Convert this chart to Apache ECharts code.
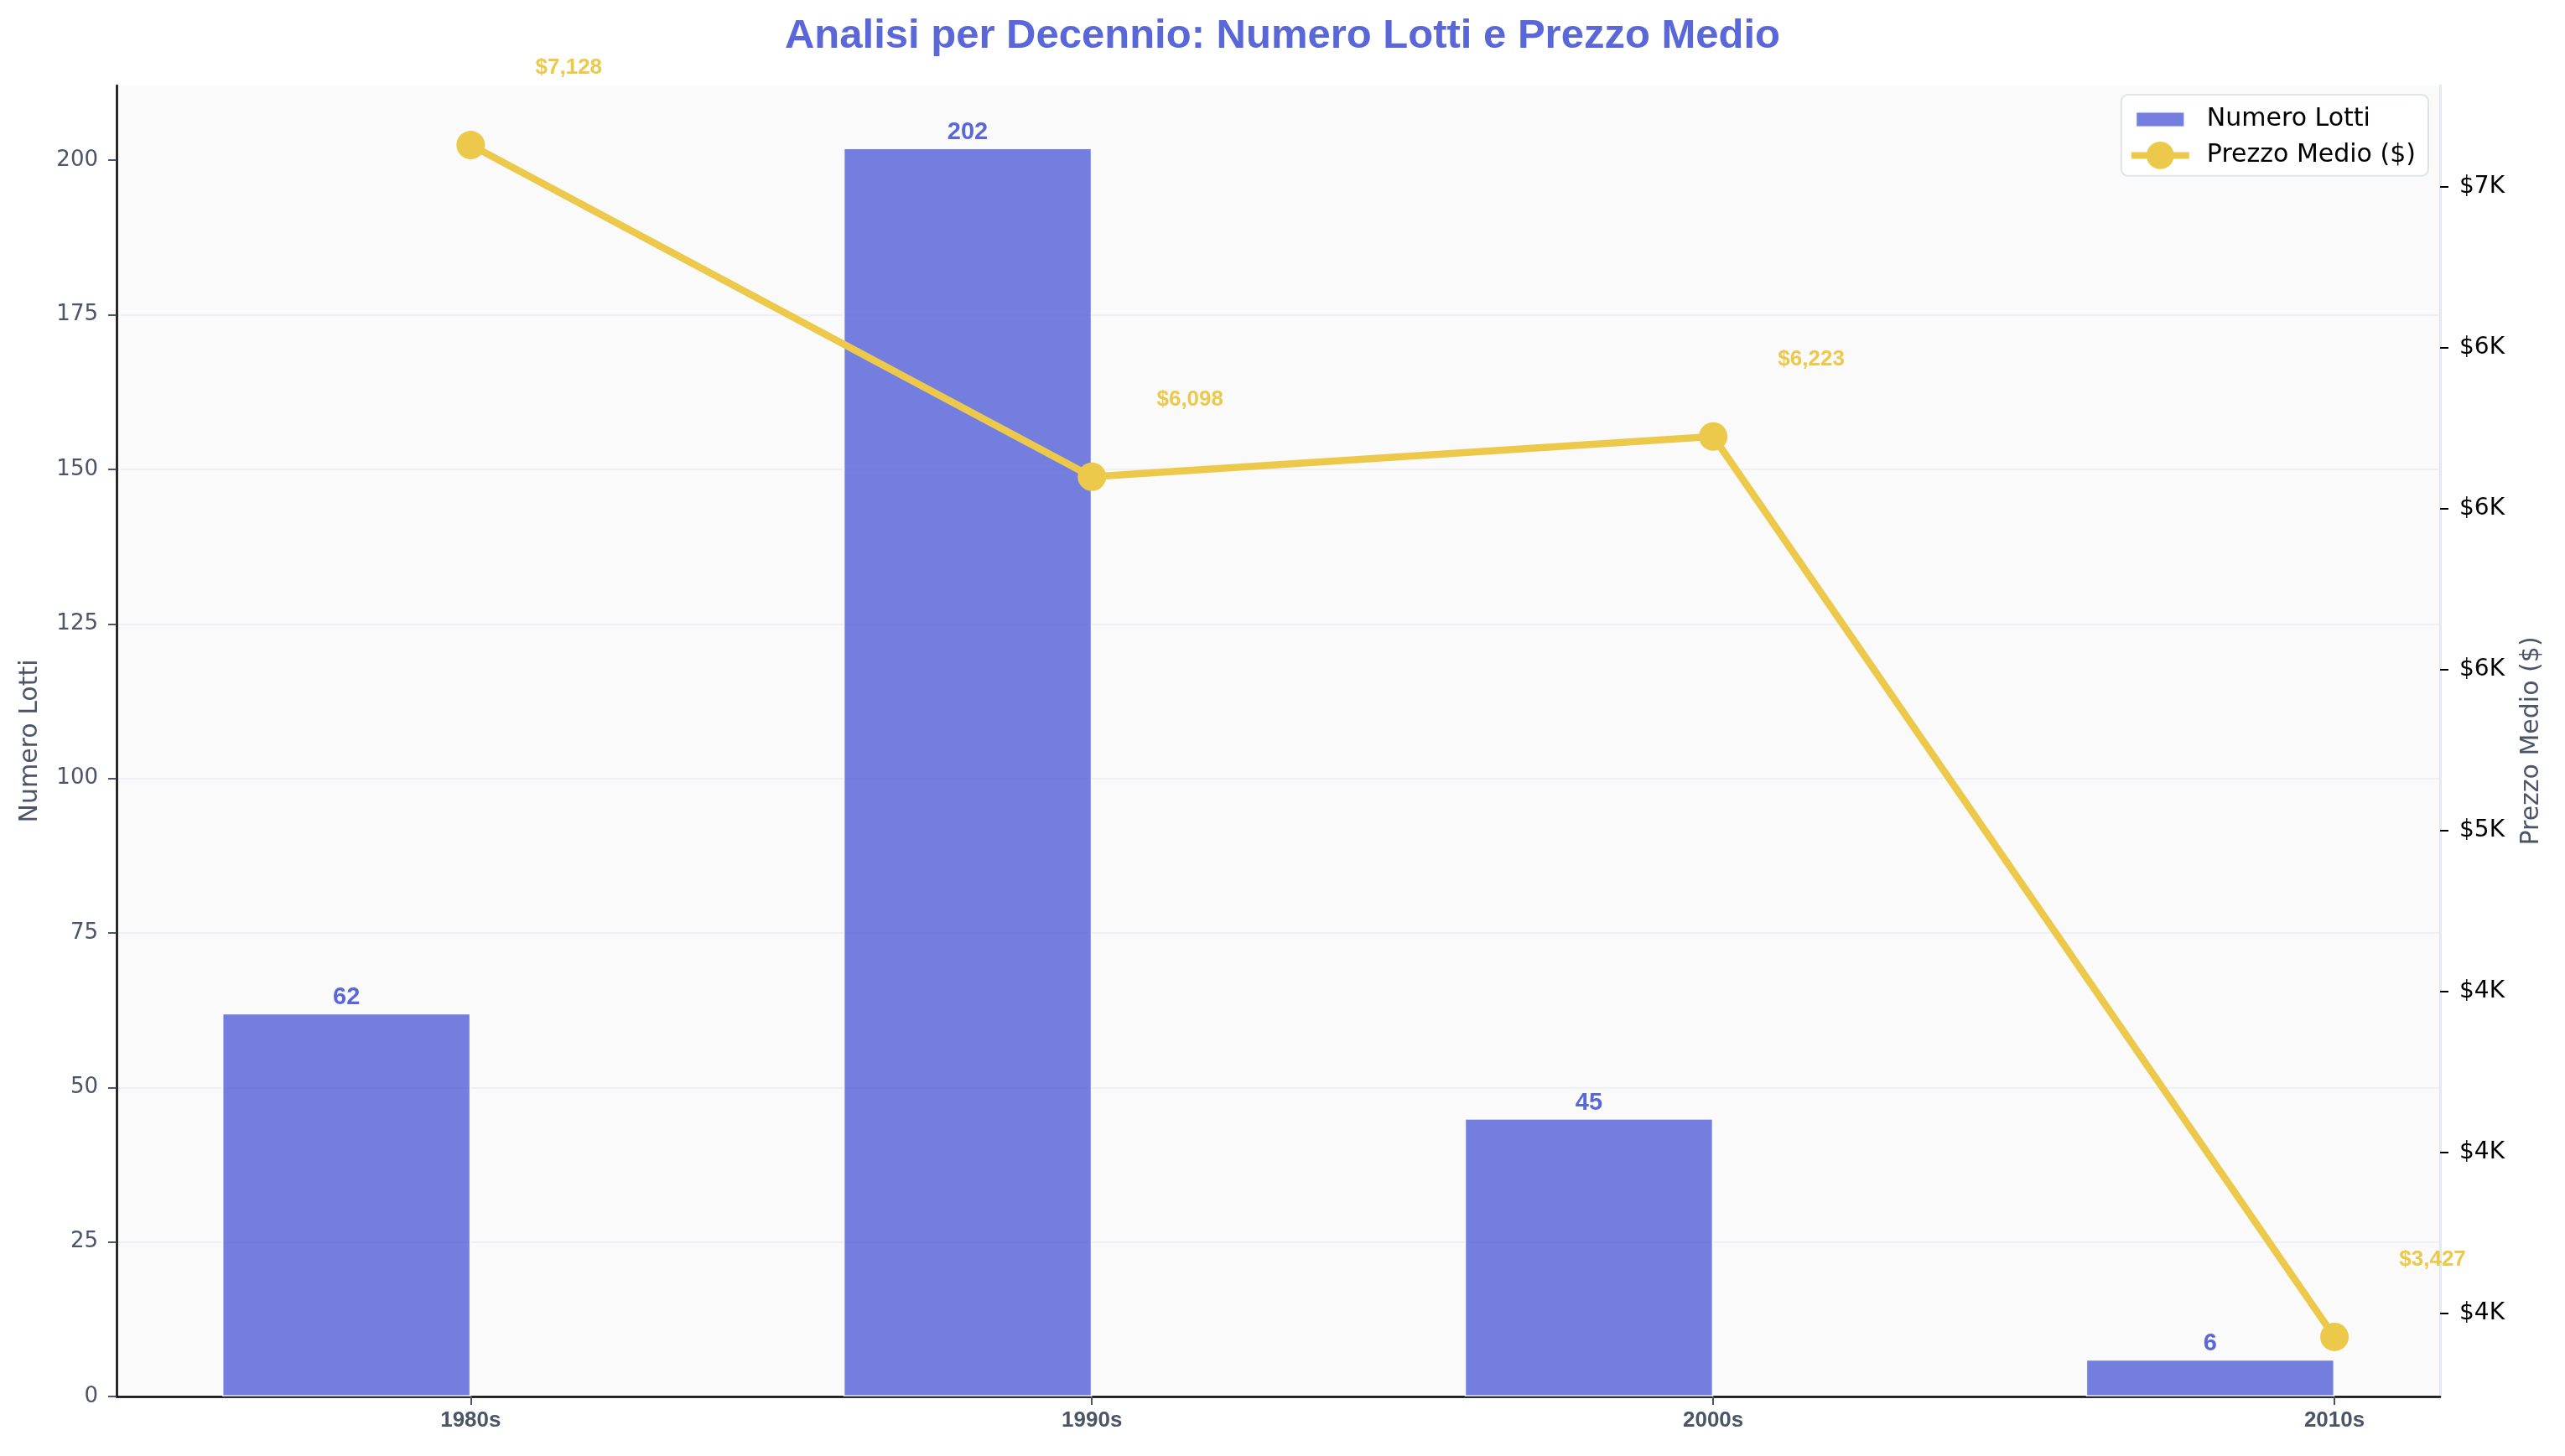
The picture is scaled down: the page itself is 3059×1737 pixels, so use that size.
<!DOCTYPE html>
<html><head><meta charset="utf-8">
<script src="https://cdn.jsdelivr.net/npm/echarts@6/dist/echarts.min.js"></script>
<style>html,body{margin:0;padding:0;background:#fff}#c{width:3059px;height:1737px}</style>
</head><body><div id="c"></div>
<script>
const decades = ['1980s', '1990s', '2000s', '2010s'];
const lotCounts = [62, 202, 45, 6];
const avgPrices = [7128, 6098, 6223, 3427];
const countTicks = [0, 25, 50, 75, 100, 125, 150, 175, 200];
const priceTicks = [3500, 4000, 4500, 5000, 5500, 6000, 6500, 7000];

function roundHalfEven(x) {
  const f = Math.floor(x), d = x - f;
  if (Math.abs(d - 0.5) < 1e-9) return (f % 2 === 0) ? f : f + 1;
  return Math.round(x);
}
function kLabel(v) { return '$' + roundHalfEven(v / 1000) + 'K'; }
function money(v) { return '$' + v.toLocaleString('en-US'); }

const W = 3059, H = 1737;
const grid = { left: 139, right: 149, top: 102, bottom: 71 };
const barUnits = 0.4;
const xDataMin = -barUnits, xDataMax = decades.length - 1;
const xPad = 0.05 * (xDataMax - xDataMin);
const xLo = xDataMin - xPad, xHi = xDataMax + xPad;
const barPx = barUnits * (W - grid.left - grid.right) / (xHi - xLo);
const cMax = Math.max(...lotCounts) * 1.05;
const pLo = Math.min(...avgPrices), pHi = Math.max(...avgPrices), pPad = 0.05 * (pHi - pLo);
const catTicks = decades.map((d, i) => i);

const chart = echarts.init(document.getElementById('c'), null, { renderer: 'canvas', width: W, height: H });
chart.setOption({
  animation: false,
  backgroundColor: '#ffffff',
  title: {
    text: 'Analisi per Decennio: Numero Lotti e Prezzo Medio',
    left: 'center', top: 14,
    textStyle: { fontFamily: 'Liberation Sans', fontWeight: 'bold', fontSize: 49, color: '#5a67d8' }
  },
  legend: {
    orient: 'vertical', right: 163, top: 113, align: 'left',
    padding: [8, 15, 8, 8], itemGap: 5, itemWidth: 69, itemHeight: 41,
    backgroundColor: 'rgba(255,255,255,0.85)', borderColor: '#dfe3ea', borderWidth: 2, borderRadius: 8,
    textStyle: { fontFamily: 'DejaVu Sans', fontSize: 30, color: '#000', padding: [0, 0, 0, 16] },
    data: [
      { name: 'Numero Lotti', icon: 'path://M0,0M5.5,11.5H63.5V29.5H5.5ZM69,41' },
      { name: 'Prezzo Medio ($)', lineStyle: { width: 8, color: '#ecc94b' }, itemStyle: { color: '#ecc94b' } }
    ]
  },
  grid: { left: grid.left, right: grid.right, top: grid.top, bottom: grid.bottom, containLabel: false,
    show: true, backgroundColor: '#fafafa', borderWidth: 0 },
  xAxis: {
    type: 'value', min: xLo, max: xHi,
    axisLine: { show: true, onZero: false, lineStyle: { color: '#000', width: 2.5 } },
    axisTick: { show: true, customValues: catTicks, length: 10, lineStyle: { color: '#4a5568', width: 2 } },
    axisLabel: { customValues: catTicks, formatter: v => decades[Math.round(v)], margin: 16,
      fontFamily: 'Liberation Sans', fontWeight: 'bold', fontSize: 26, color: '#4a5568' },
    splitLine: { show: false }
  },
  yAxis: [
    {
      type: 'value', min: 0, max: cMax, interval: 25, position: 'left',
      name: 'Numero Lotti', nameLocation: 'middle', nameGap: 88, nameRotate: 90,
      nameTextStyle: { fontFamily: 'DejaVu Sans', fontSize: 30, color: '#4a5568' },
      axisLine: { show: true, onZero: false, lineStyle: { color: '#000', width: 2.5 } },
      axisTick: { show: true, customValues: countTicks, length: 10, lineStyle: { color: '#4a5568', width: 2 } },
      axisLabel: { customValues: countTicks, margin: 22, fontFamily: 'DejaVu Sans', fontSize: 26, color: '#4a5568' },
      splitLine: { show: true, showMaxLine: false, showMinLine: false, lineStyle: { color: '#eef0f5', width: 2 } }
    },
    {
      type: 'value', min: pLo - pPad, max: pHi + pPad, position: 'right',
      name: 'Prezzo Medio ($)', nameLocation: 'middle', nameGap: 94, nameRotate: 90,
      nameTextStyle: { fontFamily: 'DejaVu Sans', fontSize: 30, color: '#4a5568' },
      axisLine: { show: true, onZero: false, lineStyle: { color: '#e2e8f0', width: 3 } },
      axisTick: { show: true, customValues: priceTicks, length: 10, lineStyle: { color: '#000', width: 2 } },
      axisLabel: { customValues: priceTicks, formatter: kLabel, margin: 23, fontFamily: 'DejaVu Sans', fontSize: 28, color: '#000' },
      splitLine: { show: false }
    }
  ],
  series: [
    {
      type: 'bar', name: 'Numero Lotti', xAxisIndex: 0, yAxisIndex: 0, barWidth: barPx,
      data: lotCounts.map((v, i) => [i - barUnits / 2, v]),
      itemStyle: { color: 'rgba(90,103,216,0.85)', borderColor: 'rgba(255,255,255,0.9)', borderWidth: 1.5 },
      label: { show: true, position: 'top', distance: 4, formatter: p => String(p.value[1]),
        color: '#5a67d8', fontFamily: 'Liberation Sans', fontWeight: 'bold', fontSize: 29 }
    },
    {
      type: 'line', name: 'Prezzo Medio ($)', xAxisIndex: 0, yAxisIndex: 1, z: 5,
      data: avgPrices.map((v, i) => [i, v]),
      symbol: 'circle', symbolSize: 34, showSymbol: true,
      lineStyle: { color: '#ecc94b', width: 8.5 },
      itemStyle: { color: '#ecc94b' },
      label: { show: true, position: 'inside', offset: [117, -92], formatter: p => money(p.value[1]),
        color: '#ecc94b', fontFamily: 'Liberation Sans', fontWeight: 'bold', fontSize: 26 }
    }
  ]
});
</script>
</body></html>
